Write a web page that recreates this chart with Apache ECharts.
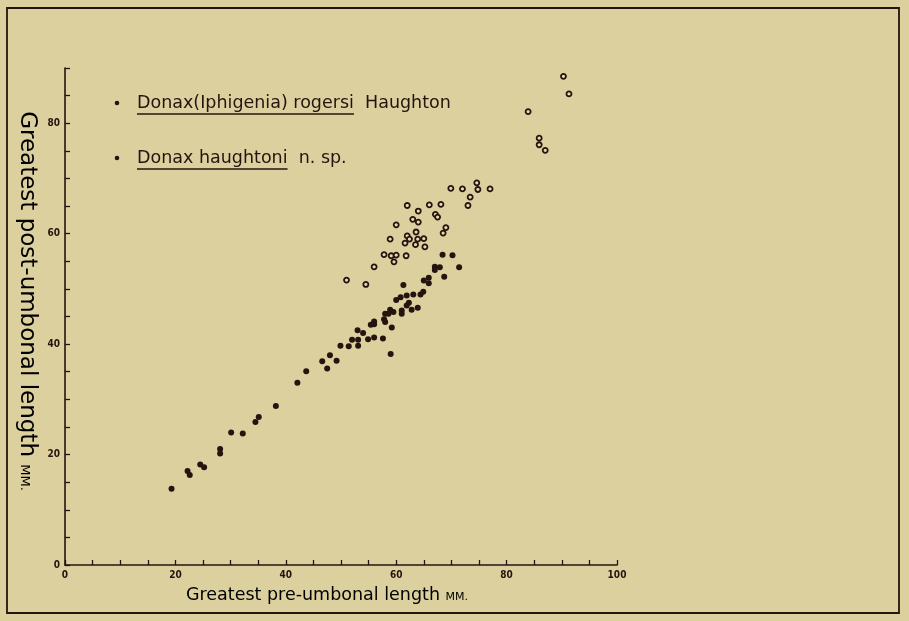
<!DOCTYPE html>
<html>
<head>
<meta charset="utf-8">
<script src="https://cdn.jsdelivr.net/npm/echarts@6/dist/echarts.min.js"></script>
<style>
html,body{margin:0;padding:0;background:#dcd09e;}
#c{width:909px;height:621px;}
</style>
</head>
<body>
<div id="c"></div>
<script>
// Donax (Iphigenia) rogersi Haughton — open circles [pre-umbonal, post-umbonal]
const rogersiX = [74.6, 69.9, 72.0, 74.8, 77.0, 73.4, 73.0, 62.0, 66.0, 68.1, 64.0, 67.1, 67.5, 63.0, 64.0, 60.0, 69.0, 68.5, 63.6, 62.0, 62.4, 58.9, 63.9, 65.0, 61.6, 63.5, 65.2, 57.8, 59.1, 60.0, 61.8, 59.6, 56.0, 51.0, 54.5, 90.3, 91.3, 83.9, 85.9, 85.9, 87.0];
const rogersiY = [69.2, 68.2, 68.1, 68.0, 68.1, 66.6, 65.1, 65.1, 65.2, 65.3, 64.1, 63.5, 63.0, 62.6, 62.1, 61.6, 61.1, 60.1, 60.3, 59.6, 59.0, 59.0, 59.0, 59.1, 58.3, 58.0, 57.6, 56.2, 56.0, 56.1, 56.0, 54.9, 54.0, 51.6, 50.8, 88.5, 85.3, 82.1, 77.3, 76.1, 75.1];
// Donax haughtoni n. sp. — filled dots
const haughtoniX = [68.4, 70.2, 67.0, 67.0, 67.9, 71.4, 68.7, 65.9, 65.0, 65.9, 61.3, 64.9, 64.4, 63.1, 61.9, 60.8, 60.0, 62.3, 61.9, 63.9, 62.8, 61.0, 61.0, 58.9, 59.5, 58.0, 58.6, 57.8, 58.0, 56.0, 55.4, 56.0, 59.2, 53.0, 54.0, 52.0, 53.1, 54.9, 56.0, 57.6, 49.9, 51.4, 53.1, 48.0, 46.6, 49.2, 47.5, 43.7, 59.0, 42.1, 38.2, 35.1, 34.5, 30.1, 32.2, 28.1, 28.1, 24.5, 25.2, 22.2, 22.6, 19.3];
const haughtoniY = [56.2, 56.1, 54.0, 53.4, 53.9, 53.9, 52.2, 52.0, 51.5, 51.0, 50.7, 49.5, 49.0, 49.0, 48.8, 48.5, 48.0, 47.5, 47.0, 46.6, 46.2, 46.1, 45.5, 46.2, 45.8, 45.5, 45.5, 44.5, 44.0, 44.1, 43.5, 43.6, 43.0, 42.5, 42.0, 40.8, 40.8, 40.9, 41.2, 41.0, 39.7, 39.6, 39.7, 38.0, 36.9, 37.0, 35.6, 35.1, 38.2, 33.0, 28.8, 26.8, 25.9, 24.0, 23.8, 21.0, 20.2, 18.2, 17.7, 17.0, 16.3, 13.8];
const xTickLabels = [0, 20, 40, 60, 80, 100];
const yTickLabels = [0, 20, 40, 60, 80];
const legendRogersi = ['Donax(Iphigenia) rogersi', '  Haughton'];
const legendHaughtoni = ['Donax haughtoni', '  n. sp.'];
const xName = 'Greatest pre-umbonal length ';
const yName = 'Greatest post-umbonal length ';
const unitName = 'MM.';

const ink = '#24140f';
const bg = '#dcd09e';
const font = '"DejaVu Sans", sans-serif';
const legendSize = 17.5;

const zip = (a, b) => a.map((v, i) => [v, b[i]]);

const cv = document.createElement('canvas').getContext('2d');
function tw(t, size) {
  cv.font = size + 'px ' + font;
  return cv.measureText(t).width;
}

function legendRow(x, y, parts) {
  const w0 = tw(parts[0], legendSize);
  return [
    {type: 'circle', shape: {cx: x - 20, cy: y, r: 2.3}, style: {fill: ink}},
    {type: 'text', x: x, y: y, style: {text: parts[0] + parts[1], font: legendSize + 'px ' + font, fill: ink, textVerticalAlign: 'middle'}},
    {type: 'line', shape: {x1: x, y1: y + 11, x2: x + w0, y2: y + 11}, style: {stroke: ink, lineWidth: 1.3}}
  ];
}

const labelStyle = {color: ink, fontSize: 10, fontWeight: 'bold', fontFamily: '"DejaVu Sans Condensed", sans-serif', margin: 5};

const chart = echarts.init(document.getElementById('c'));
chart.setOption({
  backgroundColor: bg,
  animation: false,
  grid: {left: 65, top: 68, width: 552, height: 497},
  xAxis: {
    type: 'value', min: 0, max: 100, interval: 5,
    axisLine: {lineStyle: {color: ink, width: 1.6}},
    axisTick: {inside: true, length: 5, lineStyle: {color: ink, width: 1.3}},
    splitLine: {show: false},
    axisLabel: Object.assign({}, labelStyle, {formatter: v => xTickLabels.includes(v) ? String(v) : ''})
  },
  yAxis: {
    type: 'value', min: 0, max: 90, interval: 5,
    axisLine: {lineStyle: {color: ink, width: 1.6}},
    axisTick: {inside: true, length: 5, lineStyle: {color: ink, width: 1.3}},
    splitLine: {show: false},
    axisLabel: Object.assign({}, labelStyle, {formatter: v => yTickLabels.includes(v) ? String(v) : ''})
  },
  series: [
    {
      name: 'Donax (Iphigenia) rogersi Haughton', type: 'scatter',
      data: zip(rogersiX, rogersiY), symbol: 'circle', symbolSize: 5,
      itemStyle: {color: '#e6dcae', borderColor: ink, borderWidth: 1.8, opacity: 1}
    },
    {
      name: 'Donax haughtoni n. sp.', type: 'scatter',
      data: zip(haughtoniX, haughtoniY), symbol: 'circle', symbolSize: 6,
      itemStyle: {color: ink, opacity: 1}
    }
  ],
  graphic: [
    {type: 'rect', shape: {x: 7, y: 8, width: 892, height: 605}, style: {fill: 'none', stroke: ink, lineWidth: 1.8}, z: 10},
    ...legendRow(137, 103, legendRogersi),
    ...legendRow(137, 158, legendHaughtoni),
    {type: 'text', x: 327, y: 595, style: {
      text: '{a|' + xName + '}{b|' + unitName + '}', textAlign: 'center', textVerticalAlign: 'middle',
      rich: {a: {fontSize: 17.5, fontFamily: font, color: ink}, b: {fontSize: 11, fontFamily: font, color: ink, padding: [4, 0, 0, 0]}}
    }},
    {type: 'text', x: 27, y: 301, rotation: -Math.PI / 2, style: {
      text: '{a|' + yName + '}{b|' + unitName + '}', textAlign: 'center', textVerticalAlign: 'middle',
      rich: {a: {fontSize: 23, fontFamily: font, color: ink}, b: {fontSize: 13, fontFamily: font, color: ink, padding: [5, 0, 0, 0]}}
    }}
  ]
});
</script>
</body>
</html>
